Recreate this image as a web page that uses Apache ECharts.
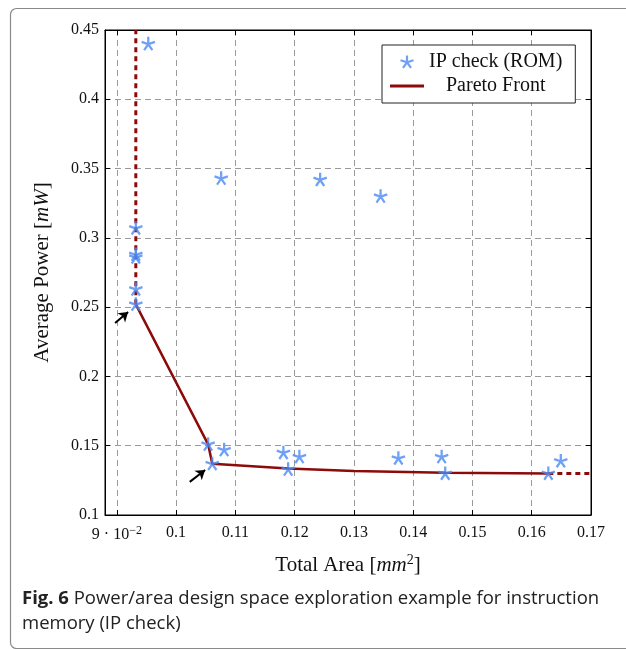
<!DOCTYPE html>
<html>
<head>
<meta charset="utf-8">
<script src="https://cdn.jsdelivr.net/npm/echarts@6/dist/echarts.min.js"></script>
<style>
  html, body { margin: 0; padding: 0; background: #fff; }
  #main { width: 626px; height: 649px; }
</style>
</head>
<body>
<div id="main"></div>
<script>
// measured design points (area mm^2, power mW)
var ipArea = [0.0953, 0.0932, 0.0932, 0.0932, 0.0932, 0.0932, 0.1076, 0.1243, 0.1345, 0.1054, 0.1081, 0.1061, 0.1181, 0.1189, 0.1208, 0.1375, 0.1448, 0.1454, 0.1628, 0.1649];
var ipPower = [0.440, 0.307, 0.288, 0.286, 0.263, 0.252, 0.343, 0.342, 0.330, 0.151, 0.147, 0.137, 0.145, 0.133, 0.142, 0.141, 0.142, 0.130, 0.130, 0.139];

// pareto front (solid part) and its dashed extensions
var paretoArea = [0.0932, 0.1054, 0.1061, 0.1189, 0.1300, 0.1454, 0.1628];
var paretoPower = [0.252, 0.151, 0.137, 0.1335, 0.1318, 0.1305, 0.1300];
var extUpArea = [0.0932, 0.0932];
var extUpPower = [0.252, 0.45];
var extRightArea = [0.1628, 0.17];
var extRightPower = [0.130, 0.130];

// annotation arrows [fromX, fromY, toX, toY]
var arrows = [
  [0.0897, 0.2386, 0.0919, 0.2465],
  [0.1023, 0.1239, 0.1049, 0.1325]
];

var xTicks = [0.09, 0.10, 0.11, 0.12, 0.13, 0.14, 0.15, 0.16, 0.17];
var xTickLabels = ['9 · 10{sup|−2}', '0.1', '0.11', '0.12', '0.13', '0.14', '0.15', '0.16', '0.17'];

function zip(a, b) {
  return a.map(function (v, i) { return [v, b[i]]; });
}

// five-armed asterisk, like the pgfplots "star" mark
function starPath() {
  var r = 50, w = 8, parts = [];
  for (var k = 0; k < 5; k++) {
    var a = -Math.PI / 2 + k * 2 * Math.PI / 5;
    var dx = Math.cos(a), dy = Math.sin(a), px = -dy, py = dx;
    var pts = [
      [50 + px * w - dx * w * 0.5, 50 + py * w - dy * w * 0.5],
      [50 + dx * r + px * w, 50 + dy * r + py * w],
      [50 + dx * r - px * w, 50 + dy * r - py * w],
      [50 - px * w - dx * w * 0.5, 50 - py * w - dy * w * 0.5]
    ];
    parts.push('M' + pts.map(function (p) { return p[0].toFixed(2) + ',' + p[1].toFixed(2); }).join(' L') + ' Z');
  }
  return 'path://' + parts.join(' ');
}

var serif = 'Liberation Serif';
var blue = '#4a88f4';
var red = '#8c0a0a';
var gridLine = { show: true, lineStyle: { color: '#9a9a9a', type: [6, 4], width: 1 } };

var chart = echarts.init(document.getElementById('main'));

chart.setOption({
  animation: false,
  backgroundColor: '#fff',
  grid: { left: 105, right: 35, top: 30, bottom: 134, show: true, borderColor: '#000', borderWidth: 1 },
  legend: {
    orient: 'vertical',
    left: 382, top: 45,
    padding: [7, 13, 7, 8],
    itemGap: 4,
    itemWidth: 34, itemHeight: 13,
    backgroundColor: '#fff',
    borderColor: '#222', borderWidth: 1,
    textStyle: { fontFamily: serif, fontSize: 20, color: '#111' },
    data: [
      { name: 'IP check (ROM)', icon: starPath(), itemStyle: { color: blue } },
      { name: 'Pareto Front', icon: 'path://M0,0 L34,0 L34,3 L0,3 Z', itemStyle: { color: red },
        textStyle: { padding: [0, 0, 0, 17] } }
    ]
  },
  xAxis: [{
    type: 'value', min: 0.088, max: 0.17,
    name: 'Total Area [{it|mm}{sup|2}]',
    nameLocation: 'middle', nameGap: 38,
    nameTextStyle: {
      fontFamily: serif, fontSize: 21, color: '#111',
      rich: {
        it: { fontFamily: serif, fontStyle: 'italic', fontSize: 21, color: '#111' },
        sup: { fontFamily: serif, fontSize: 14, verticalAlign: 'bottom', padding: [0, 0, 11, 0], color: '#111' }
      }
    },
    axisLine: { show: true, lineStyle: { color: '#000' } },
    axisTick: { show: true, inside: true, length: 5, customValues: xTicks, lineStyle: { color: '#000' } },
    axisLabel: {
      customValues: xTicks, margin: 10,
      fontFamily: serif, fontSize: 16, color: '#111',
      formatter: function (v) {
        var i = xTicks.findIndex(function (t) { return Math.abs(t - v) < 1e-9; });
        return i >= 0 ? xTickLabels[i] : '';
      },
      rich: {
        sup: { fontFamily: serif, fontSize: 12, padding: [0, 0, 8, 0], color: '#111' }
      }
    },
    splitLine: gridLine
  }, {
    type: 'value', min: 0.088, max: 0.17, position: 'top',
    axisLine: { show: true, lineStyle: { color: '#000' } },
    axisTick: { show: true, inside: true, length: 5, customValues: xTicks, lineStyle: { color: '#000' } },
    axisLabel: { show: false },
    splitLine: { show: false }
  }],
  yAxis: [{
    type: 'value', min: 0.1, max: 0.45, interval: 0.05,
    name: 'Average Power [{it|mW}]',
    nameLocation: 'middle', nameGap: 52, nameRotate: 90,
    nameTextStyle: {
      fontFamily: serif, fontSize: 21, color: '#111',
      rich: { it: { fontFamily: serif, fontStyle: 'italic', fontSize: 21, color: '#111' } }
    },
    axisLine: { show: true, lineStyle: { color: '#000' } },
    axisTick: { show: true, inside: true, length: 5, lineStyle: { color: '#000' } },
    axisLabel: {
      margin: 6, fontFamily: serif, fontSize: 16, color: '#111',
      formatter: function (v) { return String(+v.toFixed(2)); }
    },
    splitLine: gridLine
  }, {
    type: 'value', min: 0.1, max: 0.45, interval: 0.05, position: 'right',
    axisLine: { show: true, lineStyle: { color: '#000' } },
    axisTick: { show: true, inside: true, length: 5, lineStyle: { color: '#000' } },
    axisLabel: { show: false },
    splitLine: { show: false }
  }],
  graphic: [
    { type: 'rect', left: 8, top: 6, z: -1, silent: true,
      shape: { width: 640, height: 640, r: 6 },
      style: { fill: 'none', stroke: '#8a8a8a', lineWidth: 1.2 } },
    { type: 'text', left: 22, top: 586,
      style: {
        text: '{b|Fig. 6} Power/area design space exploration example for instruction\nmemory (IP check)',
        lineHeight: 25, fill: '#222',
        rich: {
          b: { fontFamily: 'Open Sans', fontWeight: 'bold', fontSize: 18.5, fill: '#222' }
        },
        font: '18.5px "Open Sans"'
      } }
  ],
  series: [
    {
      name: 'Pareto Front', type: 'line', data: zip(paretoArea, paretoPower),
      showSymbol: false, smooth: false, z: 2,
      lineStyle: { color: red, width: 2.5 }, itemStyle: { color: red }
    },
    {
      name: 'ext-up', type: 'line', data: zip(extUpArea, extUpPower),
      showSymbol: false, z: 2,
      lineStyle: { color: red, width: 3, type: [5, 4] }
    },
    {
      name: 'ext-right', type: 'line', data: zip(extRightArea, extRightPower),
      showSymbol: false, z: 2,
      lineStyle: { color: red, width: 3, type: [5, 4] }
    },
    {
      name: 'IP check (ROM)', type: 'scatter', data: zip(ipArea, ipPower),
      symbol: starPath(), symbolSize: 14, z: 3,
      itemStyle: { color: blue }
    },
    {
      name: 'arrows', type: 'line', data: [], z: 4,
      markLine: {
        silent: true, symbol: ['none', 'arrow'], symbolSize: [9, 9],
        label: { show: false },
        lineStyle: { color: '#000', width: 2, type: 'solid' },
        data: arrows.map(function (a) {
          return [{ coord: [a[0], a[1]] }, { coord: [a[2], a[3]] }];
        })
      }
    }
  ]
});
</script>
</body>
</html>
